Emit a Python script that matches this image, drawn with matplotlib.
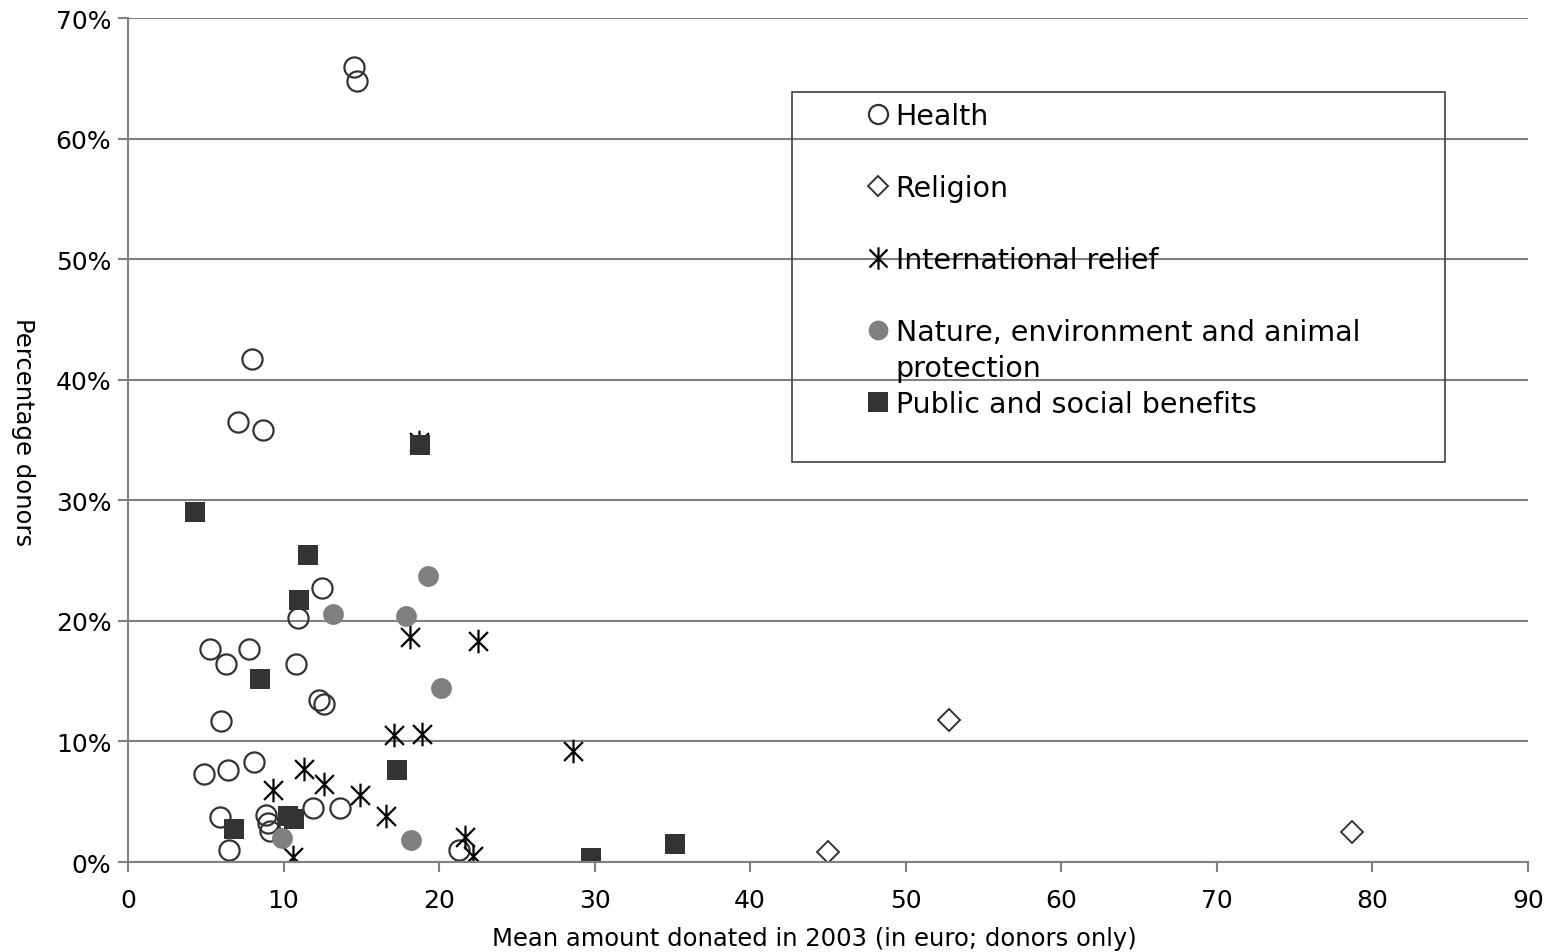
import numpy as np
import matplotlib
matplotlib.use('Agg')
import matplotlib.pyplot as plt
from matplotlib.path import Path
from matplotlib.lines import Line2D
from matplotlib.patches import Rectangle

# values (x: mean amount in euro, y: % donors)
health_x = [14.5, 14.7, 8.0, 7.1, 8.7, 12.5, 10.9, 5.3, 7.8, 6.3, 10.8, 12.3, 12.6,
            6.0, 4.9, 6.4, 8.1, 5.9, 8.9, 9.0, 9.1, 11.9, 13.6, 6.5, 21.3]
health_y = [65.9, 64.8, 41.7, 36.5, 35.8, 22.7, 20.2, 17.7, 17.7, 16.4, 16.4, 13.4, 13.1,
            11.7, 7.3, 7.6, 8.3, 3.7, 3.9, 3.2, 2.6, 4.5, 4.5, 1.0, 1.0]

religion_x = [45.0, 52.8, 78.7]
religion_y = [0.8, 11.8, 2.5]

relief_x = [18.7, 18.1, 22.5, 17.1, 18.9, 11.3, 9.3, 12.6, 14.9, 16.6, 10.6, 21.7, 22.2, 28.6]
relief_y = [34.8, 18.7, 18.3, 10.5, 10.6, 7.7, 6.0, 6.5, 5.6, 3.8, 0.4, 2.1, 0.5, 9.2]

nature_x = [19.3, 13.2, 17.9, 20.1, 9.9, 18.2]
nature_y = [23.7, 20.6, 20.4, 14.4, 2.0, 1.8]

public_x = [18.8, 4.3, 11.6, 11.0, 8.5, 17.3, 10.3, 10.7, 6.8, 29.8, 35.2]
public_y = [34.6, 29.0, 25.5, 21.7, 15.2, 7.6, 3.8, 3.6, 2.7, 0.3, 1.5]

x_ticks = list(range(0, 100, 10))
y_ticks = list(range(0, 80, 10))
y_ticklabels = [str(v) + '%' for v in y_ticks]

# excel-style asterisk: vertical bar plus an X
star = Path([(0, -1), (0, 1), (-0.8, -0.8), (0.8, 0.8), (-0.8, 0.8), (0.8, -0.8)],
            [Path.MOVETO, Path.LINETO, Path.MOVETO, Path.LINETO, Path.MOVETO, Path.LINETO])

dark = '#333333'
grey = '#808080'

fig = plt.figure(figsize=(15.49, 9.53), dpi=100)
ax = fig.add_axes([0.0826, 0.0944, 0.9038, 0.8856])

ax.plot(health_x, health_y, linestyle='none', marker='o', ms=14.5, mfc='none',
        mec=dark, mew=1.6, label='Health')
ax.plot(religion_x, religion_y, linestyle='none', marker='D', ms=11, mfc='none',
        mec=dark, mew=1.4, label='Religion')
ax.plot(relief_x, relief_y, linestyle='none', marker=star, ms=17, mfc='none',
        mec='black', mew=1.6, label='International relief')
ax.plot(nature_x, nature_y, linestyle='none', marker='o', ms=15, mfc=grey,
        mec=grey, mew=0, label='Nature, environment and animal')
ax.plot(public_x, public_y, linestyle='none', marker='s', ms=15, mfc=dark,
        mec=dark, mew=0, label='Public and social benefits')

ax.set_xlim(0, 90)
ax.set_ylim(0, 70)
ax.set_xticks(x_ticks)
ax.set_yticks(y_ticks)
ax.set_yticklabels(y_ticklabels)
ax.tick_params(axis='both', labelsize=18, color=grey, length=7, width=1.5, direction='out')
ax.tick_params(axis='y', pad=5)
ax.tick_params(axis='x', pad=12)
ax.yaxis.grid(True, color=grey, linewidth=1.5)
ax.set_axisbelow(True)
for side in ['top', 'right']:
    ax.spines[side].set_visible(False)
for side in ['left', 'bottom']:
    ax.spines[side].set_color(grey)
    ax.spines[side].set_linewidth(1.5)

ax.set_xlabel('Mean amount donated in 2003 (in euro; donors only)', fontsize=17.5, labelpad=10)
ax.set_ylabel('Percentage donors', fontsize=17.5, rotation=-90, labelpad=32)
ax.xaxis.label.set_x(0.49)
ax.yaxis.label.set_y(0.511)

# legend box as in the original, entries on a 2-line grid
ax.add_patch(Rectangle((0.474, 0.474), 0.467, 0.438, transform=ax.transAxes,
                       fill=False, edgecolor='#404040', linewidth=1.2, zorder=5))
h = ax.get_legend_handles_labels()[0]
blank = Line2D([], [], linestyle='none')
handles = [h[0], blank, h[1], blank, h[2], blank, h[3], blank, h[4]]
labels = ['Health', ' ', 'Religion', ' ', 'International relief', ' ',
          'Nature, environment and animal', 'protection', 'Public and social benefits']
leg = ax.legend(handles, labels, loc='upper left', bbox_to_anchor=(0.529, 0.9005),
                frameon=False, fontsize=20.5, markerscale=0.95, handlelength=0.65,
                handletextpad=0.3, labelspacing=0.28, borderpad=0, borderaxespad=0)

fig.savefig('out.png', dpi=100)
